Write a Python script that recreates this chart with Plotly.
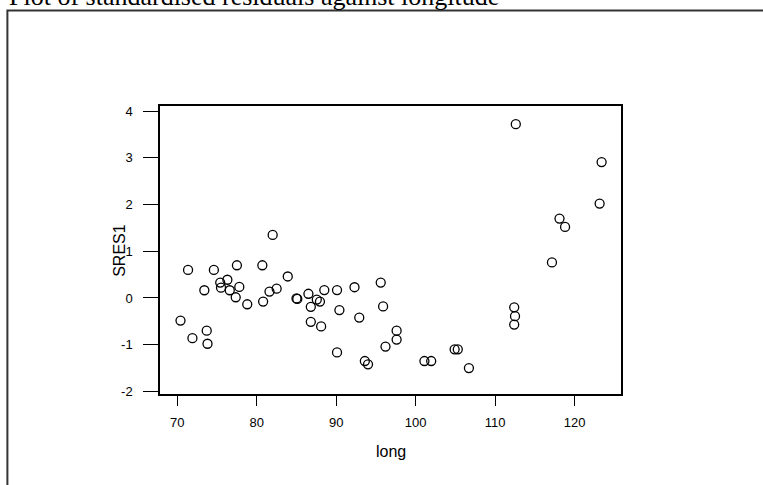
import plotly.graph_objects as go

# Data: longitude and standardised residuals (SRES1)
long_vals = [70.4, 71.35, 71.9, 73.4, 73.7, 73.8, 74.6, 75.4, 75.5, 76.3,
             76.6, 77.35, 77.5, 77.8, 78.8, 80.7, 80.8, 81.6, 82.0, 82.5,
             83.9, 85.0, 85.1, 86.5, 86.8, 86.8, 87.55, 87.95, 88.1, 88.5,
             90.1, 90.4, 90.1, 92.3, 92.9, 93.6, 94.0, 95.6, 95.9, 96.2,
             97.6, 97.6, 101.1, 101.95, 104.9, 105.3, 106.7, 112.4, 112.5, 112.4,
             112.6, 117.15, 118.1, 118.8, 123.15, 123.4]
sres1 = [-0.485, 0.60, -0.86, 0.165, -0.70, -0.98, 0.60, 0.33, 0.22, 0.39,
         0.165, 0.015, 0.70, 0.236, -0.135, 0.70, -0.078, 0.137, 1.35, 0.20,
         0.46, -0.01, -0.02, 0.09, -0.19, -0.51, -0.035, -0.078, -0.61, 0.17,
         0.17, -0.26, -1.165, 0.23, -0.42, -1.35, -1.42, 0.33, -0.18, -1.04,
         -0.70, -0.89, -1.35, -1.35, -1.10, -1.10, -1.50, -0.20, -0.39, -0.57,
         3.72, 0.76, 1.70, 1.52, 2.02, 2.91]

x_ticks = [70, 80, 90, 100, 110, 120]
y_ticks = [-2, -1, 0, 1, 2, 3, 4]

title_text = "Plot of standardised residuals against longitude"
x_title = "long"
y_title = "SRES1"

# Layout geometry (pixels)
FW, FH = 763, 485
L, R, T, B = 160, 620.7, 106, 394.3
W, H = R - L, B - T

def px_x(p):
    return (p - L) / W

def px_y(p):
    return (B - p) / H

fig = go.Figure()
fig.add_trace(go.Scatter(
    x=long_vals, y=sres1, mode="markers",
    marker=dict(symbol="circle-open", size=9, color="black",
                line=dict(width=1.3, color="black")),
    showlegend=False, hoverinfo="x+y",
))

axis_font = dict(family="Liberation Sans, Arial, sans-serif", size=13, color="black")

fig.update_layout(
    width=FW, height=FH,
    margin=dict(l=L, r=FW - R, t=T, b=FH - B),
    paper_bgcolor="white", plot_bgcolor="white",
    xaxis=dict(range=[67.82, 125.84], tickvals=x_ticks, ticktext=[str(v) for v in x_ticks],
               showgrid=False, zeroline=False, showline=True, linecolor="black", linewidth=1.5,
               mirror=True, ticks="outside", ticklen=10, tickwidth=1.3, tickcolor="black",
               tickfont=axis_font, ticklabelstandoff=6),
    yaxis=dict(range=[-2.056, 4.11], tickvals=y_ticks, ticktext=[str(v) for v in y_ticks],
               showgrid=False, zeroline=False, showline=True, linecolor="black", linewidth=1.5,
               mirror=True, ticks="outside", ticklen=15, tickwidth=1.3, tickcolor="black",
               tickfont=axis_font, ticklabelstandoff=8),
    shapes=[dict(type="rect", xref="paper", yref="paper",
                 x0=px_x(7.5), x1=px_x(800), y0=px_y(520), y1=px_y(10.5),
                 line=dict(color="#333333", width=2), fillcolor="rgba(0,0,0,0)", layer="below")],
    annotations=[
        dict(text=title_text, xref="paper", yref="paper", x=px_x(7), y=px_y(-4),
             xanchor="left", yanchor="middle", showarrow=False,
             font=dict(family="Liberation Serif, Times New Roman, serif", size=26, color="black")),
        dict(text=x_title, xref="paper", yref="paper", x=px_x(390.5), y=px_y(452),
             xanchor="center", yanchor="middle", showarrow=False,
             font=dict(family="Liberation Sans, Arial, sans-serif", size=16, color="black")),
        dict(text=y_title, xref="paper", yref="paper", x=px_x(120), y=px_y(250),
             xanchor="center", yanchor="middle", showarrow=False, textangle=-90,
             font=dict(family="Liberation Sans, Arial, sans-serif", size=16, color="black")),
    ],
)

fig.write_html("out.html")
